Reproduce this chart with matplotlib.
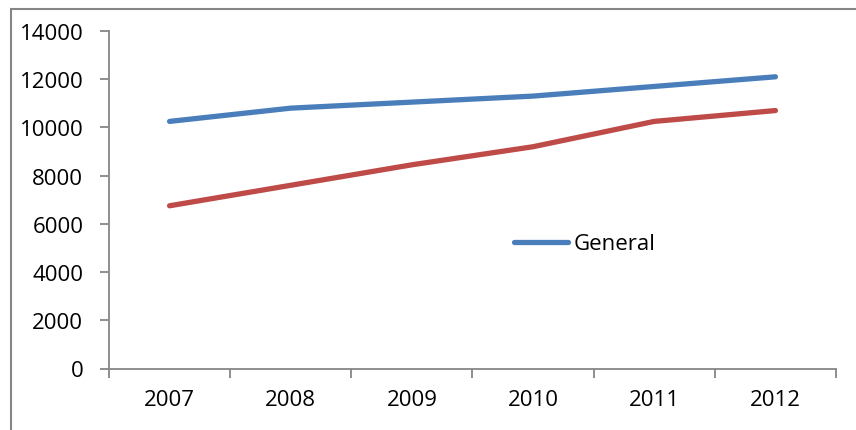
import matplotlib
matplotlib.use("Agg")
import matplotlib.pyplot as plt
from matplotlib.patches import Rectangle
from matplotlib.ticker import FixedLocator, NullFormatter

plt.rcParams['font.family'] = ['Open Sans', 'DejaVu Sans']

years = ["2007", "2008", "2009", "2010", "2011", "2012"]
general = [10250, 10800, 11050, 11300, 11700, 12100]
second = [6750, 7600, 8450, 9200, 10250, 10700]
y_ticks = [0, 2000, 4000, 6000, 8000, 10000, 12000, 14000]

W, H = 856, 431
fig = plt.figure(figsize=(W / 100, H / 100), dpi=100)
ax = fig.add_axes([109 / W, 1 - 369.5 / H, 727 / W, 337.5 / H])

gray = "#868686"
blue = "#4A7EBB"
red = "#BE4B48"
fs = 16

x = list(range(len(years)))
ax.plot(x, general, color=blue, lw=3.8, solid_capstyle='round', label="General")
ax.plot(x, second, color=red, lw=3.8, solid_capstyle='round')

ax.set_xlim(-0.5, len(years) - 0.5)
ax.set_ylim(0, 14000)
ax.set_yticks(y_ticks)
ax.set_yticklabels([str(v) for v in y_ticks])

ax.set_xticks(x)
ax.set_xticklabels(years)
ax.xaxis.set_minor_locator(FixedLocator([i - 0.5 for i in range(len(years) + 1)]))
ax.xaxis.set_minor_formatter(NullFormatter())
ax.tick_params(axis='x', which='major', length=0, pad=15, labelsize=fs)
ax.tick_params(axis='x', which='minor', length=6.5, width=1.3, color=gray, direction='out')
ax.tick_params(axis='y', length=6.5, width=1.3, color=gray, pad=12, labelsize=fs)

for side in ('top', 'right'):
    ax.spines[side].set_visible(False)
for side in ('left', 'bottom'):
    ax.spines[side].set_color(gray)
    ax.spines[side].set_linewidth(1.3)

ax.legend(loc='center left', bbox_to_anchor=(0.557, 0.369), frameon=False,
          borderaxespad=0, borderpad=0, handlelength=2.45, handletextpad=0.22,
          fontsize=fs)

# outer chart frame
fig.patches.append(Rectangle((11 / W, -0.2), 1.2, 1.2 - 10 / H,
                             transform=fig.transFigure, fill=False,
                             edgecolor=gray, lw=1.5))

fig.savefig("out.png", dpi=100)
